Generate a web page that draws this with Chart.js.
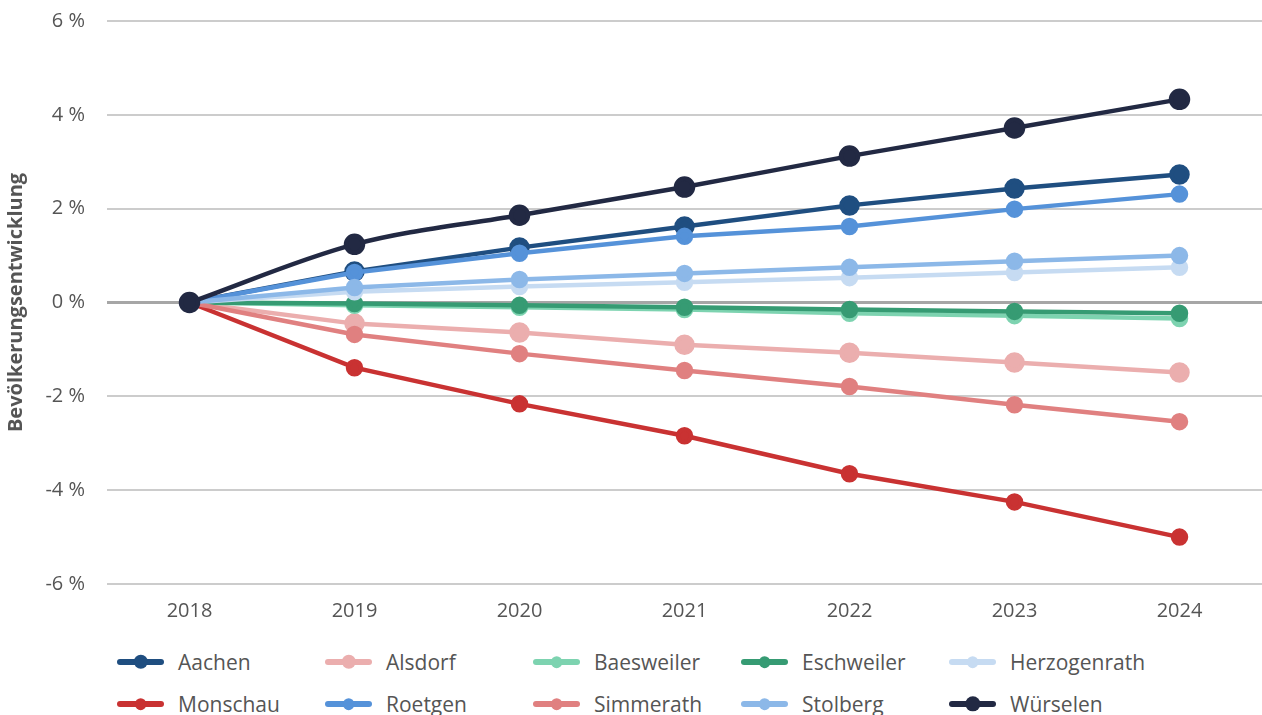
<!DOCTYPE html>
<html>
<head>
<meta charset="utf-8">
<script src="https://cdn.jsdelivr.net/npm/chart.js@4"></script>
<style>
  body { margin: 0; background: #fff; font-family: 'Open Sans', sans-serif; overflow: hidden; }
  #wrap { position: relative; width: 1262px; height: 638px; }
  #legend { position: absolute; left: 117px; top: 648px; display: grid;
            grid-template-columns: repeat(5, 208px); row-gap: 14px; }
  .item { display: flex; align-items: center; height: 28px; font-size: 21px; color: #555; white-space: nowrap; }
  .sample { position: relative; width: 47px; height: 6px; border-radius: 3px; margin-right: 14px; flex: none; }
  .sample span { position: absolute; left: 50%; top: 50%; border-radius: 50%; transform: translate(-50%, -50%); }
</style>
</head>
<body>
<div id="wrap"><canvas id="chart" width="1262" height="638"></canvas></div>
<div id="legend"></div>
<script>
const years = ['2018', '2019', '2020', '2021', '2022', '2023', '2024'];

const aachen       = [0, 0.66, 1.17, 1.62, 2.07, 2.43, 2.73];
const alsdorf      = [0, -0.45, -0.64, -0.90, -1.07, -1.28, -1.49];
const baesweiler   = [0, -0.06, -0.10, -0.15, -0.23, -0.28, -0.34];
const eschweiler   = [0, -0.02, -0.06, -0.10, -0.15, -0.19, -0.23];
const herzogenrath = [0, 0.23, 0.34, 0.43, 0.53, 0.64, 0.75];
const monschau     = [0, -1.39, -2.16, -2.84, -3.65, -4.25, -5.00];
const roetgen      = [0, 0.64, 1.05, 1.41, 1.62, 1.99, 2.31];
const simmerath    = [0, -0.68, -1.09, -1.45, -1.79, -2.18, -2.54];
const stolberg     = [0, 0.32, 0.49, 0.62, 0.75, 0.88, 1.00];
const wuerselen    = [0, 1.24, 1.86, 2.46, 3.12, 3.72, 4.33];

// name, values, colour, point radius, curved
const series = [
    ['Aachen', aachen, '#1f4e80', 8, false],
    ['Alsdorf', alsdorf, '#ebaeae', 8, false],
    ['Baesweiler', baesweiler, '#7dd3b0', 6.5, false],
    ['Eschweiler', eschweiler, '#369b73', 6.5, false],
    ['Herzogenrath', herzogenrath, '#c6dbf2', 6.5, false],
    ['Monschau', monschau, '#c93232', 6.5, false],
    ['Roetgen', roetgen, '#5592d9', 6.5, false],
    ['Simmerath', simmerath, '#e08080', 6.5, false],
    ['Stolberg', stolberg, '#8cb8e8', 6.5, false],
    ['Würselen', wuerselen, '#222943', 8.5, true]
];

const datasets = series.map((s, i) => ({
    label: s[0],
    data: s[1],
    borderColor: s[2],
    backgroundColor: s[2],
    borderWidth: 4.5,
    pointRadius: s[3],
    pointHoverRadius: s[3],
    cubicInterpolationMode: s[4] ? 'monotone' : 'default',
    tension: 0,
    clip: false,
    order: series.length - i
}));

// legend as html, fixed columns like the original
let legend = document.getElementById('legend');
series.forEach(s => {
    let r = s[3] * 0.9;
    legend.innerHTML += `<div class="item"><div class="sample" style="background:${s[2]}">` +
        `<span style="background:${s[2]};width:${r * 2}px;height:${r * 2}px"></span></div>${s[0]}</div>`;
});

const ctx = document.getElementById('chart').getContext('2d');
new Chart(ctx, {
    type: 'line',
    data: { labels: years, datasets: datasets },
    options: {
        responsive: false,
        animation: false,
        layout: { autoPadding: false, padding: { top: 21, right: 0, bottom: 0, left: 0 } },
        plugins: { legend: { display: false }, tooltip: { enabled: false } },
        scales: {
            x: {
                offset: true,
                grid: { display: false, drawTicks: false },
                border: { display: false },
                ticks: { color: '#555', font: { family: 'Open Sans', size: 20 }, padding: 15 },
                afterFit: s => { s.paddingLeft = 0; s.paddingRight = 0; }
            },
            y: {
                min: -6, max: 6,
                grid: {
                    color: c => c.tick && c.tick.value === 0 ? '#a6a6a6' : '#cccccc',
                    lineWidth: c => c.tick && c.tick.value === 0 ? 3 : 2,
                    drawTicks: false
                },
                border: { display: false },
                ticks: {
                    stepSize: 2,
                    padding: 22,
                    color: '#555',
                    font: { family: 'Open Sans', size: 20 },
                    callback: v => v + ' %'
                },
                title: {
                    display: true,
                    text: 'Bevölkerungsentwicklung',
                    color: '#555',
                    font: { family: 'Open Sans', size: 20, weight: 'bold' },
                    padding: { top: 4, bottom: 4 }
                },
                afterFit: s => { s.width = 107; s.paddingTop = 0; s.paddingBottom = 0; }
            }
        }
    }
});
</script>
</body>
</html>
